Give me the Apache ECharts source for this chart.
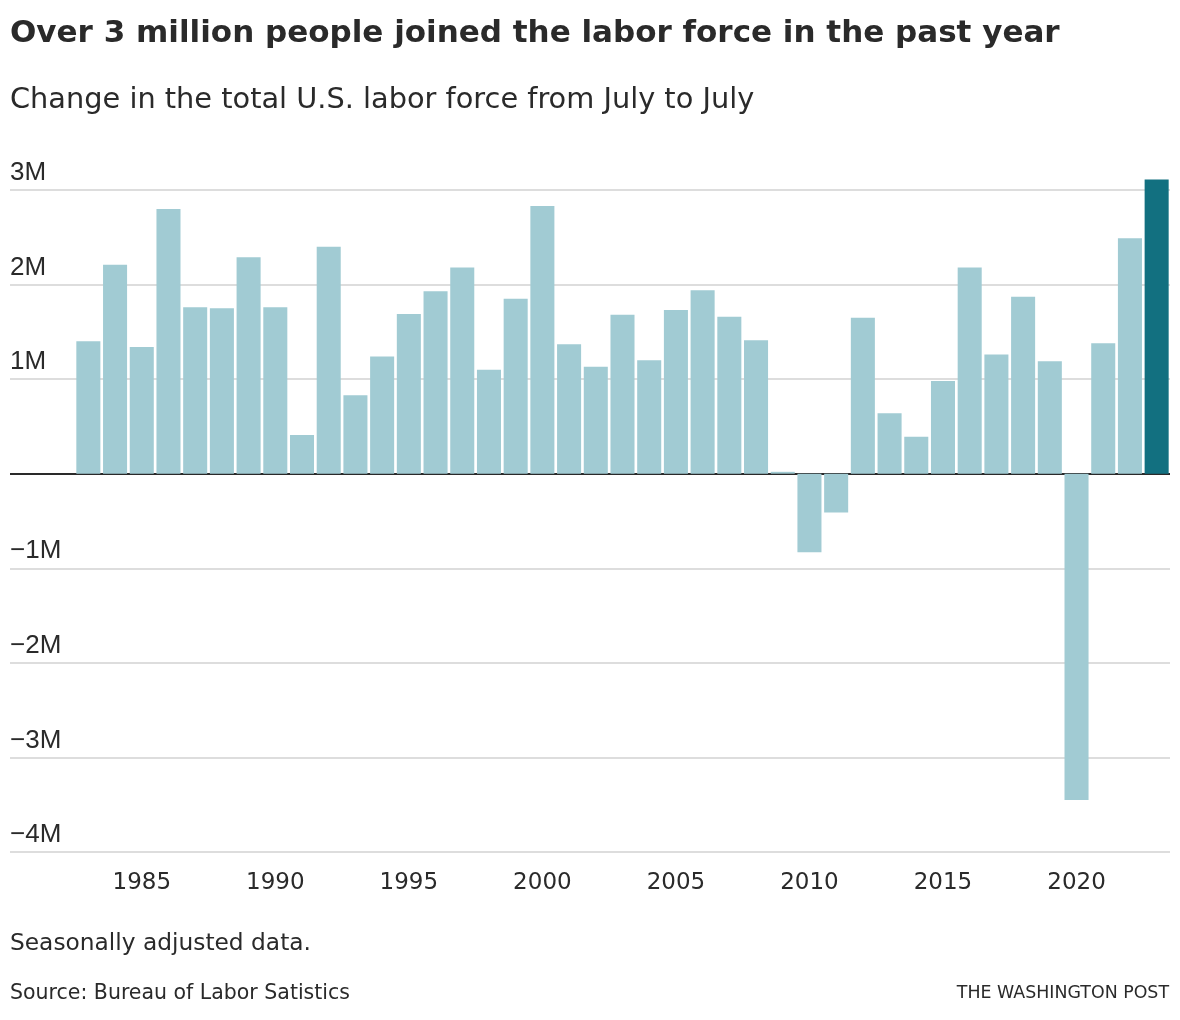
<!DOCTYPE html>
<html>
<head>
<meta charset="utf-8">
<script src="https://cdn.jsdelivr.net/npm/echarts@6/dist/echarts.min.js"></script>
<style>
html,body{margin:0;padding:0;background:#fff;}
#chart{width:1180px;height:1020px;}
</style>
</head>
<body>
<div id="chart"></div>
<script>
const years = ['1983','1984','1985','1986','1987','1988','1989','1990','1991','1992','1993','1994','1995','1996','1997','1998','1999','2000','2001','2002','2003','2004','2005','2006','2007','2008','2009','2010','2011','2012','2013','2014','2015','2016','2017','2018','2019','2020','2021','2022','2023'];
const changeMillions = [1.40,2.21,1.34,2.80,1.76,1.75,2.29,1.76,0.41,2.40,0.83,1.24,1.69,1.93,2.18,1.10,1.85,2.83,1.37,1.13,1.68,1.20,1.73,1.94,1.66,1.41,0.02,-0.83,-0.41,1.65,0.64,0.39,0.98,2.18,1.26,1.87,1.19,-3.45,1.38,2.49,3.11];
const highlightYear = '2023';
const yTicks = [-4,-3,-2,-1,0,1,2,3];

const FONT = '"DejaVu Sans", sans-serif';
const YFONT = '"Liberation Sans", Arial, sans-serif';
const TEXT = '#2a2a2a';
const LIGHT = '#a1cbd3';
const DARK = '#127080';

const chart = echarts.init(document.getElementById('chart'), null, {renderer:'canvas'});
const splitColors = yTicks.map(v => v === 0 ? '#2a2a2a' : '#dddddd');

const option = {
  animation: false,
  backgroundColor: '#ffffff',
  title: [
    {text: 'Over 3 million people joined the labor force in the past year', left: 10, top: 18, padding: 0,
     textStyle: {fontFamily: FONT, fontSize: 31, fontWeight: 'bold', color: TEXT}},
    {text: 'Change in the total U.S. labor force from July to July', left: 10, top: 86, padding: 0,
     textStyle: {fontFamily: FONT, fontSize: 28.8, fontWeight: 'normal', color: TEXT}},
    {text: 'Seasonally adjusted data.', left: 10, top: 932, padding: 0,
     textStyle: {fontFamily: FONT, fontSize: 23.3, fontWeight: 'normal', color: TEXT}},
    {text: 'Source: Bureau of Labor Satistics', left: 10, top: 983, padding: 0,
     textStyle: {fontFamily: FONT, fontSize: 20.5, fontWeight: 'normal', color: TEXT}},
    {text: 'THE WASHINGTON POST', right: 11, top: 985, padding: 0,
     textStyle: {fontFamily: FONT, fontSize: 17.4, fontWeight: 'normal', color: TEXT}}
  ],
  grid: [
    {left: 10, right: 10, top: 190, bottom: 168, containLabel: false},
    {left: 75, right: 10, top: 190, bottom: 168, containLabel: false}
  ],
  xAxis: [
    {gridIndex: 0, type: 'value', min: 0, max: 1, show: false},
    {gridIndex: 1, type: 'category', data: years,
     axisLine: {show: false, onZero: false}, axisTick: {show: false},
     axisLabel: {interval: 0, margin: 20, fontFamily: FONT, fontSize: 23, color: TEXT,
       formatter: (v) => (Number(v) % 5 === 0 ? v : '')}}
  ],
  yAxis: [
    {gridIndex: 0, type: 'value', min: -4, max: 3, interval: 1,
     axisLine: {show: false}, axisTick: {show: false},
     splitLine: {show: true, lineStyle: {color: splitColors, width: 2}},
     axisLabel: {inside: true, margin: 0, align: 'left', verticalAlign: 'bottom', padding: [0,0,4,0],
       fontFamily: YFONT, fontSize: 26, color: TEXT,
       formatter: (v) => v === 0 ? '' : (v < 0 ? '\u2212' : '') + Math.abs(v) + 'M'}},
    {gridIndex: 1, type: 'value', min: -4, max: 3, interval: 1, show: false}
  ],
  series: [
    {type: 'bar', xAxisIndex: 1, yAxisIndex: 1, clip: false,
     barCategoryGap: '10%',
     data: changeMillions.map((v, i) => ({value: v, itemStyle: {color: years[i] === highlightYear ? DARK : LIGHT}})),
     z: 1}
  ]
};
chart.setOption(option);
</script>
</body>
</html>
